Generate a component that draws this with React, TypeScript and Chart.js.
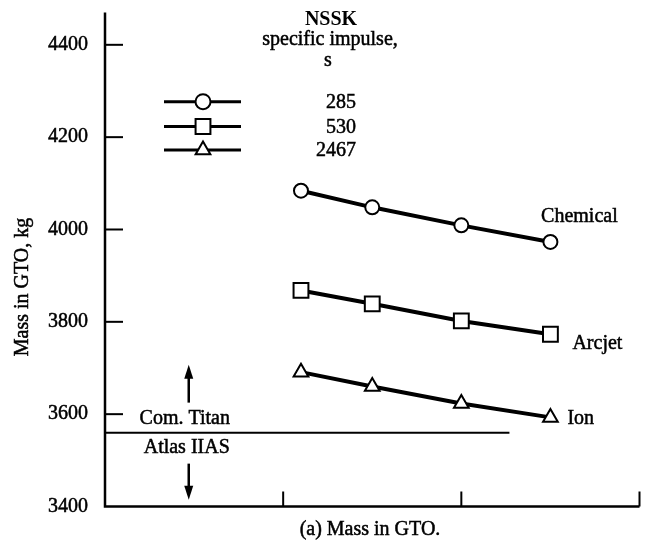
import React, { useEffect, useRef } from 'react';
import { Chart, registerables } from 'chart.js';

Chart.register(...registerables);

// ---- data ----
const xPositions = [1.1, 1.5, 2.0, 2.5];
const chemical = [4084, 4048, 4009, 3973];
const arcjet = [3868, 3839, 3802, 3773];
const ion = [3691, 3660, 3623, 3593];
const seriesNames = ['Chemical', 'Arcjet', 'Ion'];
const impulseLabels = ['285', '530', '2467'];
const yTicks = [3400, 3600, 3800, 4000, 4200, 4400];
const xTicks = [1, 2, 3];
const launcherLimit = 3560; // Com. Titan / Atlas IIAS
const launcherLimitStart = 0;
const launcherLimitEnd = 2.27;
const arrowX = 0.47;
const yMin = 3400;
const yMax = 4470;
const xMin = 0;
const xMax = 3;

const FONT = '"Liberation Serif", "Times New Roman", serif';

function pts(values: number[]) {
  return values.map((v, i) => ({ x: xPositions[i], y: v }));
}

function text(ctx: CanvasRenderingContext2D, s: string, x: number, y: number) {
  ctx.fillText(s, x, y);
  ctx.save();
  ctx.lineWidth = 0.5;
  ctx.strokeStyle = '#000';
  ctx.strokeText(s, x, y);
  ctx.restore();
}

function drawMarker(ctx: CanvasRenderingContext2D, style: string, x: number, y: number, r: number) {
  ctx.beginPath();
  if (style === 'circle') {
    ctx.arc(x, y, r, 0, Math.PI * 2);
  } else if (style === 'rect') {
    const s = Math.SQRT1_2 * r;
    ctx.rect(x - s, y - s, 2 * s, 2 * s);
  } else {
    ctx.moveTo(x, y - r);
    ctx.lineTo(x + r * 0.866, y + r / 2);
    ctx.lineTo(x - r * 0.866, y + r / 2);
    ctx.closePath();
  }
  ctx.fillStyle = '#fff';
  ctx.fill();
  ctx.lineWidth = 2;
  ctx.strokeStyle = '#000';
  ctx.stroke();
}

const annotationPlugin = {
  id: 'annotations',
  afterDatasetsDraw(chart: any) {
    const ctx: CanvasRenderingContext2D = chart.ctx;
    const xs = chart.scales.x;
    const ys = chart.scales.y;
    const area = chart.chartArea;
    ctx.save();
    ctx.strokeStyle = '#000';
    ctx.fillStyle = '#000';
    ctx.lineCap = 'butt';

    // axes
    ctx.lineWidth = 2.5;
    ctx.beginPath();
    ctx.moveTo(area.left, area.top);
    ctx.lineTo(area.left, area.bottom);
    ctx.lineTo(area.right, area.bottom);
    ctx.stroke();

    // y ticks (inward) and labels
    ctx.lineWidth = 2;
    ctx.font = `20px ${FONT}`;
    ctx.textAlign = 'right';
    ctx.textBaseline = 'middle';
    yTicks.forEach((v) => {
      const py = ys.getPixelForValue(v);
      if (v !== yMin) {
        ctx.beginPath();
        ctx.moveTo(area.left, py);
        ctx.lineTo(area.left + 18, py);
        ctx.stroke();
      }
      text(ctx, String(v), area.left - 17, py);
    });

    // x ticks (inward)
    ctx.lineWidth = 2;
    xTicks.forEach((v) => {
      const px = xs.getPixelForValue(v);
      ctx.beginPath();
      ctx.moveTo(px, area.bottom);
      ctx.lineTo(px, area.bottom - 15);
      ctx.stroke();
    });

    // y axis title
    ctx.save();
    ctx.translate(23, 287);
    ctx.rotate(-Math.PI / 2);
    ctx.textAlign = 'center';
    ctx.textBaseline = 'middle';
    text(ctx, 'Mass in GTO, kg', 0, 0);
    ctx.restore();

    // caption
    ctx.textAlign = 'center';
    ctx.textBaseline = 'middle';
    text(ctx, '(a) Mass in GTO.', 370, 530);

    // legend header
    ctx.font = `bold 20px ${FONT}`;
    ctx.fillText('NSSK', 331, 20);
    ctx.font = `20px ${FONT}`;
    text(ctx, 'specific impulse,', 330, 40);
    text(ctx, 's', 328, 61);

    // legend entries
    const styles = ['circle', 'rect', 'triangle'];
    const radii = [7.5, 10.5, 8.5];
    const legendY = [101.7, 126.5, 150];
    styles.forEach((s, i) => {
      ctx.lineWidth = 3;
      ctx.strokeStyle = '#000';
      ctx.beginPath();
      ctx.moveTo(164, legendY[i]);
      ctx.lineTo(241, legendY[i]);
      ctx.stroke();
      drawMarker(ctx, s, 203, legendY[i], radii[i]);
      ctx.fillStyle = '#000';
      ctx.textAlign = 'right';
      ctx.textBaseline = 'middle';
      text(ctx, impulseLabels[i], 356, legendY[i] + 1);
    });

    // series labels placed next to the last points
    const last = xPositions.length - 1;
    const lx = xs.getPixelForValue(xPositions[last]);
    ctx.textAlign = 'center';
    text(ctx, seriesNames[0], lx + 29, ys.getPixelForValue(chemical[last]) - 25);
    text(ctx, seriesNames[1], lx + 47, ys.getPixelForValue(arcjet[last]) + 9);
    ctx.textAlign = 'left';
    text(ctx, seriesNames[2], lx + 17, ys.getPixelForValue(ion[last]) + 1);

    // launcher limit labels and arrows
    const ly = ys.getPixelForValue(launcherLimit);
    const ax = xs.getPixelForValue(arrowX);
    ctx.textAlign = 'center';
    text(ctx, 'Com. Titan', ax - 4, ly - 14);
    text(ctx, 'Atlas IIAS', ax - 2, ly + 15);

    ctx.lineWidth = 2.5;
    ctx.strokeStyle = '#000';
    // up arrow
    ctx.beginPath();
    ctx.moveTo(ax, ly - 30);
    ctx.lineTo(ax, ly - 58);
    ctx.stroke();
    ctx.beginPath();
    ctx.moveTo(ax, ly - 68);
    ctx.lineTo(ax + 4.5, ly - 54);
    ctx.lineTo(ax - 4.5, ly - 54);
    ctx.closePath();
    ctx.fill();
    // down arrow
    ctx.beginPath();
    ctx.moveTo(ax, ly + 31);
    ctx.lineTo(ax, ly + 56);
    ctx.stroke();
    ctx.beginPath();
    ctx.moveTo(ax, ly + 67);
    ctx.lineTo(ax + 4.5, ly + 53);
    ctx.lineTo(ax - 4.5, ly + 53);
    ctx.closePath();
    ctx.fill();

    ctx.restore();
  },
};

export default function App() {
  const ref = useRef<HTMLCanvasElement | null>(null);

  useEffect(() => {
    if (!ref.current) return;
    const lineDs = (label: string, values: number[], style: string, radius: number) => ({
      label,
      data: pts(values),
      borderColor: '#000',
      borderWidth: 4,
      pointStyle: style,
      pointRadius: radius,
      pointBackgroundColor: '#fff',
      pointBorderColor: '#000',
      pointBorderWidth: 2,
      fill: false,
      tension: 0,
    });
    const chart = new Chart(ref.current, {
      type: 'line',
      data: {
        datasets: [
          lineDs(seriesNames[0], chemical, 'circle', 7),
          lineDs(seriesNames[1], arcjet, 'rect', 10.5),
          lineDs(seriesNames[2], ion, 'triangle', 8.5),
          {
            label: 'Com. Titan / Atlas IIAS',
            data: [
              { x: launcherLimitStart, y: launcherLimit },
              { x: launcherLimitEnd, y: launcherLimit },
            ],
            borderColor: '#000',
            borderWidth: 2,
            pointRadius: 0,
            fill: false,
          },
        ],
      },
      options: {
        responsive: false,
        animation: false,
        devicePixelRatio: 1,
        layout: { padding: { left: 105, right: 12, top: 10, bottom: 41.5 } },
        plugins: { legend: { display: false }, tooltip: { enabled: false }, title: { display: false } },
        scales: {
          x: { type: 'linear', min: xMin, max: xMax, display: false },
          y: { type: 'linear', min: yMin, max: yMax, display: false },
        },
      } as any,
      plugins: [annotationPlugin],
    });
    return () => chart.destroy();
  }, []);

  return (
    <div style={{ position: 'absolute', left: 0, top: 0, width: 652, height: 548, background: '#fff' }}>
      <canvas ref={ref} width={652} height={548} />
    </div>
  );
}
